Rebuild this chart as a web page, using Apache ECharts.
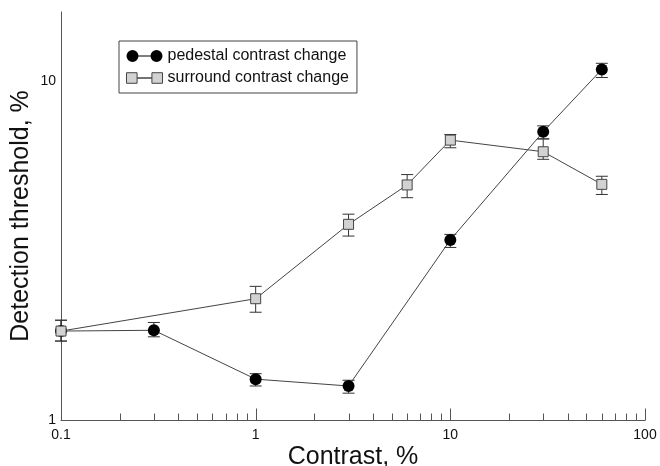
<!DOCTYPE html>
<html>
<head>
<meta charset="utf-8">
<script src="https://cdn.jsdelivr.net/npm/echarts@6/dist/echarts.min.js"></script>
<style>html,body{margin:0;padding:0;background:#fff}#c{width:660px;height:466px}</style>
</head>
<body>
<div id="c"></div>
<script>
// ---- data ----
const pedestalX  = [0.1, 0.3, 1, 3, 10, 30, 60];
const pedestalY  = [1.83, 1.84, 1.32, 1.26, 3.40, 7.09, 10.83];
const pedestalLo = [1.71, 1.76, 1.26, 1.20, 3.23, 6.76, 10.25];
const pedestalHi = [1.97, 1.94, 1.37, 1.31, 3.53, 7.38, 11.29];

const surroundX  = [0.1, 1, 3, 6, 10, 30, 60];
const surroundY  = [1.83, 2.28, 3.78, 4.94, 6.70, 6.19, 4.96];
const surroundLo = [1.71, 2.08, 3.49, 4.53, 6.36, 5.88, 4.63];
const surroundHi = [1.97, 2.48, 4.05, 5.30, 6.96, 6.75, 5.24];

const xLabels = [0.1, 1, 10, 100];
const xMajorTicks = [1, 10, 100];
const xMinorTicks = [0.2,0.3,0.4,0.5,0.6,0.7,0.8,0.9, 2,3,4,5,6,7,8,9, 20,30,40,50,60,70,80,90];
const yLabels = [1, 10];
const yMajorTicks = [10];
const yMinorTicks = [2,3,4,5,6,7,8,9];

const seriesNames = ['pedestal contrast change', 'surround contrast change'];
const xTitle = 'Contrast, %';
const yTitle = 'Detection threshold, %';

const FONT = '"Liberation Sans", Arial, Helvetica, sans-serif';
const AX = '#555';
const X_MIN = 0.1, X_MAX = 100, Y_MIN = 1, Y_MAX = 16;

function pairs(xs, ys) { return xs.map((x, i) => [x, ys[i]]); }
function errRows(xs, lo, hi) { return xs.map((x, i) => [x, lo[i], hi[i]]); }

function errRender(params, api) {
  const x = api.value(0), lo = api.value(1), hi = api.value(2);
  const a = api.coord([x, lo]), b = api.coord([x, hi]);
  const w = 6;
  const st = { stroke: '#333', lineWidth: 1 };
  return {
    type: 'group',
    children: [
      { type: 'line', shape: { x1: a[0], y1: a[1], x2: b[0], y2: b[1] }, style: st },
      { type: 'line', shape: { x1: a[0] - w, y1: a[1], x2: a[0] + w, y2: a[1] }, style: st },
      { type: 'line', shape: { x1: b[0] - w, y1: b[1], x2: b[0] + w, y2: b[1] }, style: st }
    ]
  };
}

// axis ticks drawn through the axis scales (inward-pointing)
function tickRender(dim, len) {
  return function (params, api) {
    const v = api.value(0);
    const p = dim === 'x' ? api.coord([v, Y_MIN]) : api.coord([X_MIN, v]);
    const x0 = Math.round(p[0]) + 0.5, y0 = Math.round(p[1]) + 0.5;
    const shape = dim === 'x'
      ? { x1: x0, y1: y0, x2: x0, y2: y0 - len }
      : { x1: x0, y1: y0, x2: x0 + len, y2: y0 };
    return { type: 'line', shape: shape, style: { stroke: AX, lineWidth: 1 } };
  };
}
function tickSeries(name, dim, values, len) {
  return { name: name, type: 'custom', z: 1, silent: true, clip: false,
    data: values.map(v => dim === 'x' ? [v, Y_MIN] : [X_MIN, v]), encode: { x: 0, y: 1 },
    renderItem: tickRender(dim, len) };
}

const chart = echarts.init(document.getElementById('c'), null, { renderer: 'canvas' });

chart.setOption({
  animation: false,
  backgroundColor: '#fff',
  textStyle: { fontFamily: FONT },
  grid: { left: 61, right: 15, top: 12, bottom: 46, containLabel: false, outerBoundsMode: 'none' },
  xAxis: {
    type: 'log', logBase: 10, min: X_MIN, max: X_MAX,
    name: xTitle, nameLocation: 'middle', nameGap: 25, nameMoveOverlap: false,
    nameTextStyle: { fontSize: 25, color: '#111', fontFamily: FONT, verticalAlign: 'top' },
    axisLine: { show: true, lineStyle: { color: AX, width: 1 } },
    splitLine: { show: false }, minorTick: { show: false }, minorSplitLine: { show: false },
    axisTick: { show: false },
    axisLabel: { show: true, customValues: xLabels, margin: 8, fontSize: 14, color: '#111', fontFamily: FONT,
      formatter: v => String(v) }
  },
  yAxis: {
    type: 'log', logBase: 10, min: Y_MIN, max: Y_MAX,
    name: yTitle, nameLocation: 'middle', nameGap: 27, nameMoveOverlap: false,
    nameTextStyle: { fontSize: 25, color: '#111', fontFamily: FONT },
    axisLine: { show: true, lineStyle: { color: AX, width: 1 } },
    splitLine: { show: false }, minorTick: { show: false }, minorSplitLine: { show: false },
    axisTick: { show: false },
    axisLabel: { show: true, customValues: yLabels, margin: 5, fontSize: 14, color: '#111', fontFamily: FONT,
      formatter: v => String(v) }
  },
  legend: {
    left: 119, top: 41, orient: 'vertical',
    padding: [7, 8, 7, 7], itemGap: 6,
    itemWidth: 36, itemHeight: 12,
    borderColor: '#444', borderWidth: 1, borderRadius: 0,
    backgroundColor: '#fff',
    textStyle: { fontSize: 16, color: '#111', fontFamily: FONT },
    data: [
      { name: seriesNames[0],
        icon: 'path://M0,6A6,6 0 1,1 12,6A6,6 0 1,1 0,6Z M12,5.5L24,5.5L24,6.5L12,6.5Z M24,6A6,6 0 1,1 36,6A6,6 0 1,1 24,6Z',
        itemStyle: { color: '#000', borderWidth: 0 } },
      { name: seriesNames[1],
        icon: 'path://M1,1.5L11,1.5L11,11.5L1,11.5Z M11,6.5L25,6.5L25,6.52L11,6.52Z M25,1.5L35,1.5L35,11.5L25,11.5Z',
        itemStyle: { color: '#d2d2d2', borderColor: '#444', borderWidth: 1 } }
    ]
  },
  series: [
    tickSeries('x-minor-ticks', 'x', xMinorTicks, 7),
    tickSeries('x-major-ticks', 'x', xMajorTicks, 12),
    tickSeries('y-minor-ticks', 'y', yMinorTicks, 6),
    tickSeries('y-major-ticks', 'y', yMajorTicks, 13),
    { name: 'pedestal-err', type: 'custom', z: 2, silent: true,
      data: errRows(pedestalX, pedestalLo, pedestalHi), renderItem: errRender,
      encode: { x: 0, y: [1, 2] } },
    { name: 'surround-err', type: 'custom', z: 2, silent: true,
      data: errRows(surroundX, surroundLo, surroundHi), renderItem: errRender,
      encode: { x: 0, y: [1, 2] } },
    { name: seriesNames[0], type: 'line', z: 3,
      data: pairs(pedestalX, pedestalY),
      symbol: 'circle', symbolSize: 12, showAllSymbol: true,
      lineStyle: { color: '#444', width: 1 },
      itemStyle: { color: '#000', borderWidth: 0 } },
    { name: seriesNames[1], type: 'line', z: 4,
      data: pairs(surroundX, surroundY),
      symbol: 'rect', symbolSize: 10, showAllSymbol: true,
      lineStyle: { color: '#444', width: 1 },
      itemStyle: { color: '#d2d2d2', borderColor: '#444', borderWidth: 1 } }
  ]
});
</script>
</body>
</html>
